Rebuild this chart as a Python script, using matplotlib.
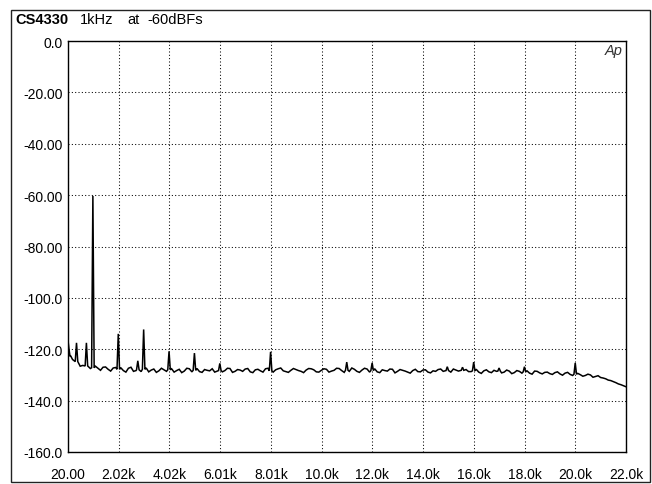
import numpy as np
import matplotlib
matplotlib.use("Agg")
import matplotlib.pyplot as plt
from matplotlib.patches import Rectangle

# ==========================================
# 0. Style
# ==========================================
plt.rcParams['font.family'] = ['Liberation Sans', 'DejaVu Sans']
plt.rcParams['font.size'] = 10
plt.rcParams['axes.linewidth'] = 1.0

# ==========================================
# 1. Data
# ==========================================
# noise floor, Hz / dBFS  (even hundreds)
floor_hz = [20, 60, 120] + list(range(200, 22001, 200))
floor_db = [
    -116.5, -120.0, -122.5,
    -124.0, -125.5, -126.3, -126.8, -127.0,   # 0.2k - 1.0k
    -127.4, -127.0, -127.8, -127.3, -127.8,   # 1.2k - 2.0k
    -128.3, -127.4, -128.6, -127.9, -127.6,   # 2.2k - 3.0k
    -128.8, -127.7, -128.4, -128.0, -127.5,   # 3.2k - 4.0k
    -128.9, -127.8, -128.5, -127.6, -128.2,   # 4.2k - 5.0k
    -128.7, -127.9, -128.4, -128.9, -127.8,   # 5.2k - 6.0k
    -128.3, -127.5, -128.6, -128.1, -127.7,   # 6.2k - 7.0k
    -128.8, -128.0, -128.4, -127.6, -128.5,   # 7.2k - 8.0k
    -128.0, -127.3, -128.7, -128.2, -127.9,   # 8.2k - 9.0k
    -128.6, -128.1, -127.6, -128.8, -128.2,   # 9.2k - 10.0k
    -127.8, -128.5, -127.4, -128.3, -128.0,   # 10.2k - 11.0k
    -127.3, -128.6, -128.1, -127.7, -128.4,   # 11.2k - 12.0k
    -128.8, -128.0, -128.5, -127.8, -128.6,   # 12.2k - 13.0k
    -128.2, -128.9, -128.3, -128.7, -128.1,   # 13.2k - 14.0k
    -128.9, -128.4, -127.9, -128.6, -128.2,   # 14.2k - 15.0k
    -127.7, -128.5, -128.0, -128.7, -128.3,   # 15.2k - 16.0k
    -128.9, -128.4, -128.8, -128.2, -127.9,   # 16.2k - 17.0k
    -128.9, -128.5, -129.1, -128.6, -128.9,   # 17.2k - 18.0k
    -129.3, -128.5, -129.2, -129.0, -129.5,   # 18.2k - 19.0k
    -129.1, -129.6, -129.3, -129.8, -129.6,   # 19.2k - 20.0k
    -129.9, -130.2, -130.0, -130.6, -131.0,   # 20.2k - 21.0k
    -131.5, -132.2, -133.0, -133.8, -134.6,   # 21.2k - 22.0k
]
# noise floor, odd hundreds
floor_hz_odd = list(range(100, 22000, 200))
floor_db_odd = [
    -122.8, -125.4, -126.6, -126.0, -127.5,   # 0.1k - 0.9k
    -126.6, -128.2, -126.9, -128.5, -127.1,   # 1.1k - 1.9k
    -127.2, -128.9, -127.0, -128.3, -128.7,
    -127.3, -128.1, -129.0, -127.4, -128.6,
    -127.6, -128.3, -129.1, -127.4, -128.8,
    -127.5, -129.0, -128.2, -127.6, -128.5,
    -128.8, -127.4, -129.0, -127.9, -128.6,
    -127.5, -129.1, -127.8, -128.9, -127.4,
    -128.9, -127.6, -128.4, -129.0, -127.5,
    -128.3, -129.1, -127.5, -128.0, -128.9,
    -127.6, -128.9, -128.2, -127.5, -129.0,   # 10.1k - 10.9k
    -128.6, -127.8, -129.0, -127.4, -128.9,
    -127.6, -129.1, -128.3, -127.7, -129.2,
    -127.9, -128.5, -129.3, -127.8, -128.8,
    -128.0, -129.2, -128.6, -127.7, -129.1,
    -128.9, -128.1, -129.3, -127.9, -128.7,
    -127.8, -129.4, -128.0, -129.1, -128.6,
    -129.2, -128.1, -129.5, -128.3, -129.3,
    -128.4, -129.7, -128.6, -129.6, -128.9,
    -129.8, -128.8, -130.1, -129.0, -130.2,
    -129.4, -130.5, -129.7, -130.9, -130.3,   # 20.1k - 20.9k
    -131.2, -132.0, -132.6, -133.5, -134.2,   # 21.1k - 21.9k
]

# discrete tones / harmonics
spike_hz   = [355, 745, 1000, 2000, 2770, 3000, 4000, 5000, 6000, 8000,
              11000, 12000, 14960, 15560, 16000, 17000, 18000, 20000]
spike_peak = [-117.5, -117.5, -60.3, -114.0, -124.5, -112.3, -120.8, -121.5,
              -125.5, -121.0, -125.0, -125.3, -126.8, -127.0, -125.0,
              -127.3, -126.8, -125.3]
spike_base = [-124.8, -126.5, -127.2, -127.8, -128.0, -127.8, -128.0, -128.2,
              -128.3, -128.4, -128.2, -128.3, -128.3, -128.2, -128.4,
              -128.5, -128.8, -129.7]
spike_half = 50  # Hz, half width of a tone at its base

x_ticks_lbl = ['20.00', '2.02k', '4.02k', '6.01k', '8.01k', '10.0k',
               '12.0k', '14.0k', '16.0k', '18.0k', '20.0k', '22.0k']
y_ticks = [0, -20, -40, -60, -80, -100, -120, -140, -160]
y_ticks_lbl = ['0.0', '-20.00', '-40.00', '-60.00', '-80.00',
               '-100.0', '-120.0', '-140.0', '-160.0']

# ==========================================
# 2. Build trace
# ==========================================
f_floor = np.array(floor_hz + floor_hz_odd, dtype=float)
d_floor = np.array(floor_db + floor_db_odd, dtype=float)
keep = np.ones(len(f_floor), dtype=bool)
for f in spike_hz:
    keep &= np.abs(f_floor - f) > spike_half + 15
pts = list(zip(f_floor[keep], d_floor[keep]))
for f, p, b in zip(spike_hz, spike_peak, spike_base):
    pts += [(f - spike_half, b), (f, p), (f + spike_half, b)]
pts.sort()
freq = np.array([p[0] for p in pts])
level = np.array([p[1] for p in pts])

# ==========================================
# 3. Plot
# ==========================================
W, H = 652, 485
fig = plt.figure(figsize=(W / 100, H / 100), dpi=100)
fig.patch.set_facecolor('white')

# outer frame
fig.add_artist(Rectangle((11 / W, 2.5 / H), (649.5 - 11) / W, (482.5 - 11) / H,
                         transform=fig.transFigure, fill=False,
                         edgecolor='#222222', linewidth=1.0))

ax = fig.add_axes([68 / W, 1 - 453 / H, (626 - 68) / W, (453 - 42) / H])
ax.plot(freq, level, color='black', linewidth=1.1, solid_joinstyle='miter')

ax.set_xlim(20, 22000)
ax.set_ylim(-160, 0)
ax.set_xticks(np.linspace(20, 22000, len(x_ticks_lbl)))
ax.set_xticklabels(x_ticks_lbl)
ax.set_yticks(y_ticks)
ax.set_yticklabels(y_ticks_lbl)
ax.tick_params(axis='both', length=0, labelsize=10, colors='black')
ax.tick_params(axis='x', pad=11)
ax.tick_params(axis='y', pad=4)

ax.grid(True, color='black', linestyle=(0, (1, 2.2)), linewidth=0.75)
for s in ax.spines.values():
    s.set_linewidth(1.0)
    s.set_edgecolor('black')

ax.text(0.993, 0.995, 'Ap', transform=ax.transAxes, ha='right', va='top',
        fontsize=10.5, style='italic', color='#333333', fontweight='light')

# title line
ty = 1 - 24.5 / H
fig.text(15 / W, ty, 'CS4330', fontsize=10.5, fontweight='bold', va='baseline')
fig.text(80 / W, ty, '1kHz', fontsize=10.5, va='baseline')
fig.text(127 / W, ty, 'at', fontsize=10.5, va='baseline')
fig.text(147 / W, ty, '-60dBFs', fontsize=10.5, va='baseline')

fig.savefig('out.png', dpi=100)
